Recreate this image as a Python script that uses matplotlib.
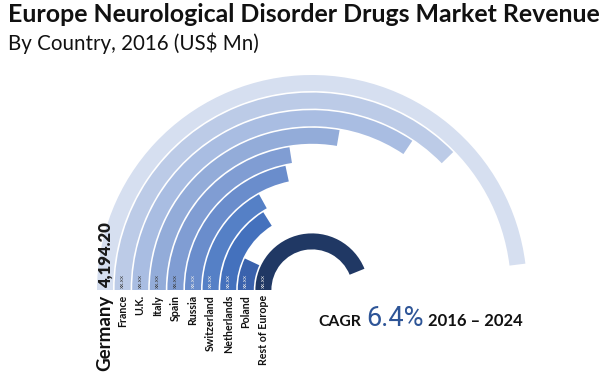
import matplotlib
matplotlib.use("Agg")
import matplotlib.pyplot as plt
from matplotlib.patches import Wedge

# data (only Germany is labelled, others estimated from arc length)
countries = ["Germany", "France", "U.K.", "Italy", "Spain", "Russia",
             "Switzerland", "Netherlands", "Poland", "Rest of Europe"]
revenue = [4194.20, 3290, 3005, 2420, 1965, 1890, 1480, 1405, 610, 3830]
value_labels = ["4,194.20", "xx.xx", "xx.xx", "xx.xx", "xx.xx", "xx.xx",
                "xx.xx", "xx.xx", "xx.xx", "xx.xx"]
colors = ["#d6dff0", "#bccbe7", "#a9bde2", "#93acd9", "#809dd3", "#6a8dcc",
          "#5580c6", "#4471bd", "#3a62ad", "#203864"]
scale_max = 4365  # value that would fill the half circle

W, H = 610, 379
fig = plt.figure(figsize=(W / 100, H / 100), dpi=100)
ax = fig.add_axes([0, 0, 1, 1])
ax.set_xlim(0, W)
ax.set_ylim(0, H)
ax.axis("off")

cx, cy = 312, H - 290
r_out = 215
step = 17.6
band = 16

for i, (name, val) in enumerate(zip(countries, revenue)):
    r = r_out - i * step
    sweep = val / scale_max * 180
    ax.add_patch(Wedge((cx, cy), r, 180 - sweep, 180, width=band,
                       facecolor=colors[i], edgecolor="none"))
    xb = cx - (r - band / 2)
    # value inside the bar
    if i == 0:
        ax.text(xb + 0.5, cy + 2, value_labels[i], rotation=90, ha="center", va="bottom",
                fontsize=12, fontweight="heavy", color="#1a1a1a", family="Lato")
    else:
        tc = "#404040" if i < 5 else "#e6e6e6"
        ax.text(xb, cy + 2, value_labels[i], rotation=90, ha="center", va="bottom",
                fontsize=4.5, color=tc, family="Lato")
    # country label below
    fs = 13.5 if i == 0 else 7.7
    ax.text(xb, cy - 5, name, rotation=90, ha="center", va="top",
            fontsize=fs, fontweight="bold", color="#111111", family="Lato")

ax.text(8, H - 3, "Europe Neurological Disorder Drugs Market Revenue", ha="left", va="top",
        fontsize=17.9, fontweight="bold", color="#111111", family="Lato")
ax.text(8, H - 33, "By Country, 2016 (US$ Mn)", ha="left", va="top",
        fontsize=14.8, color="#111111", family="Lato")

yb = H - 326
ax.text(318, yb, "CAGR", ha="left", va="baseline", fontsize=11.3, fontweight="bold",
        color="#111111", family="Lato")
ax.text(366, yb, "6.4%", ha="left", va="baseline", fontsize=19.5,
        color="#2e5597", family="Roboto")
ax.text(428, yb, "2016 \u2013 2024", ha="left", va="baseline", fontsize=12, fontweight="bold",
        color="#111111", family="Lato")

fig.savefig("out.png", dpi=100)
